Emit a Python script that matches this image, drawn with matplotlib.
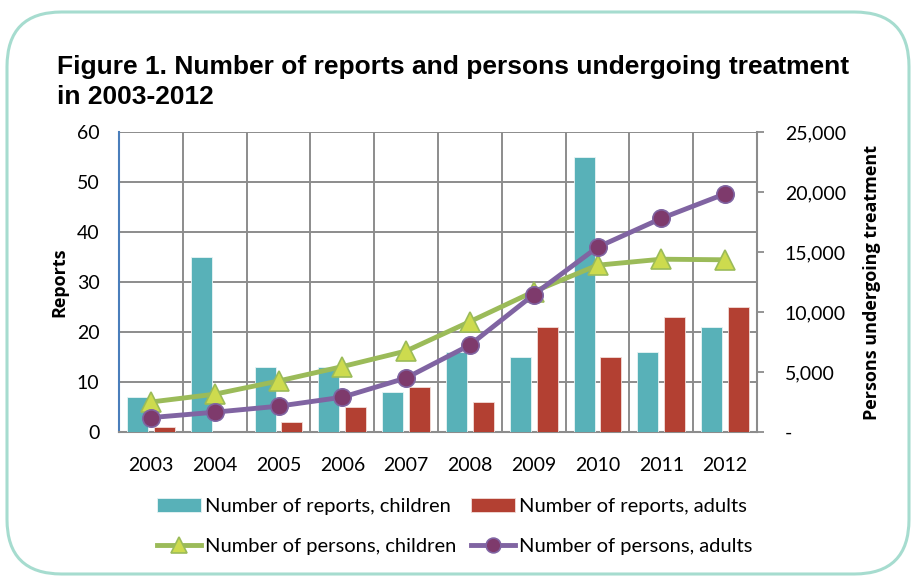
import matplotlib.pyplot as plt
import numpy as np
from matplotlib.patches import FancyBboxPatch
from matplotlib.ticker import FuncFormatter, FixedLocator

YEARS = ['2003', '2004', '2005', '2006', '2007', '2008', '2009', '2010', '2011', '2012']
REPORTS_CHILDREN = [7, 35, 13, 13, 8, 16, 15, 55, 16, 21]
REPORTS_ADULTS = [1, 0, 2, 5, 9, 6, 21, 15, 23, 25]
PERSONS_CHILDREN = [2500, 3150, 4250, 5450, 6750, 9200, 11700, 13900, 14400, 14350]
PERSONS_ADULTS = [1200, 1650, 2150, 2900, 4500, 7250, 11450, 15400, 17800, 19850]

TEAL = '#58B1B8'
RED = '#B34032'
GREEN = '#9BBB59'
PURPLE = '#8064A2'
GRID = '#8C8C8C'

plt.rcParams['font.family'] = ['Lato', 'DejaVu Sans']
plt.rcParams['font.size'] = 14

fig = plt.figure(figsize=(9.11, 5.77), dpi=100)

# rounded frame around the whole figure
frame = FancyBboxPatch((7 / 911, 3 / 577), 902 / 911, 562 / 577,
                       boxstyle='round,pad=0,rounding_size=0.06',
                       transform=fig.transFigure, fill=False,
                       edgecolor='#A6DCCF', linewidth=2.2,
                       mutation_aspect=911 / 577)
fig.patches.append(frame)

fig.text(57 / 911, 1 - 82 / 577,
         'Figure 1. Number of reports and persons undergoing treatment\nin 2003-2012',
         family='Liberation Sans', weight='bold', fontsize=19,
         va='center', ha='left', linespacing=1.35)

ax = fig.add_axes([119 / 911, 1 - 432 / 577, 638 / 911, 300 / 577])
x = np.arange(len(YEARS))
width = 0.33
ax.bar(x - 0.21, REPORTS_CHILDREN, width, color=TEAL, edgecolor='#E8F4F5',
       linewidth=0.6, label='Number of reports, children', zorder=3)
ax.bar(x + 0.21, REPORTS_ADULTS, width, color=RED, edgecolor='#F2DCD8',
       linewidth=0.6, label='Number of reports, adults', zorder=3)
ax.set_xlim(-0.5, len(YEARS) - 0.5)
ax.set_ylim(0, 60)
ax.set_yticks(range(0, 61, 10))
ax.set_xticks(x, YEARS)
ax.xaxis.set_minor_locator(FixedLocator(np.arange(-0.5, len(YEARS), 1)))
ax.grid(axis='y', which='major', color=GRID, linewidth=1.4, zorder=0)
ax.grid(axis='x', which='minor', color=GRID, linewidth=1.4, zorder=0)
ax.tick_params(axis='x', which='both', length=0, pad=18)
ax.tick_params(axis='y', length=0, pad=14)
ax.set_ylabel('Reports', family='Open Sans', weight='bold', fontsize=13, labelpad=6)
for side in ('top', 'right'):
    ax.spines[side].set_visible(False)
ax.spines['left'].set_color('#4A7EBB')
ax.spines['left'].set_linewidth(1.5)
ax.spines['bottom'].set_color(GRID)
ax.spines['bottom'].set_linewidth(1.5)

ax2 = ax.twinx()
ax2.plot(x, PERSONS_CHILDREN, color=GREEN, linewidth=3.5, marker='^',
         markersize=14, markerfacecolor='#CDDB4E', markeredgecolor=GREEN,
         markeredgewidth=1.2, label='Number of persons, children', zorder=4)
ax2.plot(x, PERSONS_ADULTS, color=PURPLE, linewidth=3.5, marker='o',
         markersize=12.5, markerfacecolor='#7E3A6C', markeredgecolor=PURPLE,
         markeredgewidth=1.2, label='Number of persons, adults', zorder=5)
ax2.set_ylim(0, 25000)
ax2.set_yticks(range(0, 25001, 5000))
ax2.yaxis.set_major_formatter(FuncFormatter(lambda v, p: '-' if v == 0 else f'{int(v):,}'))
ax2.tick_params(axis='y', direction='out', length=5, width=1.3, color=GRID, pad=15)
ax2.set_ylabel('Persons undergoing treatment', family='Open Sans', weight='bold',
               fontsize=13, labelpad=12)
for side in ('top', 'left', 'bottom'):
    ax2.spines[side].set_visible(False)
ax2.spines['right'].set_color(GRID)
ax2.spines['right'].set_linewidth(1.5)

h1, l1 = ax.get_legend_handles_labels()
h2, l2 = ax2.get_legend_handles_labels()
handles = [h1[0], h2[0], h1[1], h2[1]]
labels = [l1[0], l2[0], l1[1], l2[1]]
fig.legend(handles, labels, ncol=2, frameon=False, loc='upper left',
           bbox_to_anchor=(157 / 911, 1 - 498 / 577), handlelength=2.2,
           handletextpad=0.2, columnspacing=0.7, labelspacing=1.15,
           borderaxespad=0, borderpad=0, fontsize=14.5, markerscale=0.85)

fig.savefig('out.png', dpi=100)
